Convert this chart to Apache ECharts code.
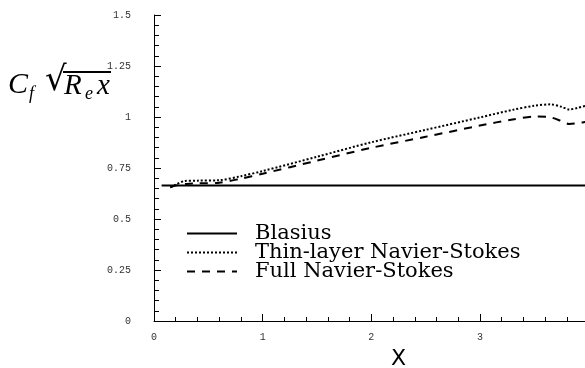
<!DOCTYPE html>
<html>
<head>
<meta charset="utf-8">
<script src="https://cdn.jsdelivr.net/npm/echarts@6/dist/echarts.min.js"></script>
<style>
  html, body { margin: 0; padding: 0; background: #fff; }
  #chart { width: 585px; height: 368px; }
</style>
</head>
<body>
<div id="chart"></div>
<script>
// skin friction along the plate
const blasiusX = [0.07, 4.0];
const blasiusY = [0.664, 0.664];

const thinX = [0.15, 0.2, 0.28, 0.4, 0.6, 0.8, 1.0, 1.5, 2.0, 2.5, 3.0, 3.3, 3.5, 3.65, 3.75, 3.82, 3.9, 4.0];
const thinY = [0.655, 0.668, 0.686, 0.688, 0.69, 0.71, 0.735, 0.805, 0.876, 0.937, 0.998, 1.035, 1.055, 1.062, 1.05, 1.037, 1.045, 1.058];

const fullX = [0.15, 0.2, 0.3, 0.4, 0.6, 0.8, 1.0, 1.5, 2.0, 2.5, 3.0, 3.3, 3.52, 3.65, 3.75, 3.82, 3.9, 4.0];
const fullY = [0.655, 0.664, 0.672, 0.675, 0.678, 0.698, 0.722, 0.786, 0.849, 0.903, 0.958, 0.988, 1.002, 0.998, 0.98, 0.966, 0.97, 0.978];

const xTicks = { min: 0, max: 4.5, interval: 1 };
const yTicks = { min: 0, max: 1.5, interval: 0.25 };

const pairs = (xs, ys) => xs.map((x, i) => [x, ys[i]]);

const chart = echarts.init(document.getElementById('chart'), null, { renderer: 'canvas' });

const tickFont = {
    color: '#333',
    fontFamily: 'Liberation Mono',
    fontSize: 10
};

chart.setOption({
    animation: false,
    grid: {
        left: 154,
        width: 489,
        top: 15,
        bottom: 47,
        outerBoundsMode: 'none'
    },
    legend: {
        orient: 'vertical',
        left: 181,
        top: 218,
        itemWidth: 50,
        itemHeight: 14,
        itemGap: -2,
        selectedMode: false,
        itemStyle: { opacity: 0 },
        textStyle: {
            color: '#000',
            fontFamily: 'DejaVu Serif',
            fontSize: 21,
            lineHeight: 18,
            padding: [0, 0, 0, 13]
        },
        data: ['Blasius', 'Thin-layer Navier-Stokes', 'Full Navier-Stokes']
    },
    xAxis: {
        type: 'value',
        min: xTicks.min,
        max: xTicks.max,
        interval: xTicks.interval,
        offset: 7,
        name: 'X',
        nameLocation: 'middle',
        nameGap: 20,
        nameTextStyle: {
            color: '#000',
            fontFamily: 'DejaVu Sans',
            fontSize: 22
        },
        splitLine: { show: false },
        axisLine: { lineStyle: { color: '#000', width: 1 } },
        axisTick: { inside: true, length: 7, lineStyle: { color: '#000' } },
        minorTick: { show: true, splitNumber: 5, length: 4, lineStyle: { color: '#000' } },
        axisLabel: Object.assign({ margin: 4, showMaxLabel: false }, tickFont)
    },
    yAxis: {
        type: 'value',
        min: yTicks.min,
        max: yTicks.max,
        interval: yTicks.interval,
        offset: 16,
        splitLine: { show: false },
        axisLine: { show: true, lineStyle: { color: '#000', width: 1 } },
        axisTick: { show: true, inside: true, length: 7, lineStyle: { color: '#000' } },
        minorTick: { show: true, splitNumber: 5, length: 5, lineStyle: { color: '#000' } },
        axisLabel: Object.assign({ margin: 7 }, tickFont)
    },
    graphic: [
        {
            type: 'group',
            left: 8,
            top: 64,
            children: [
                { type: 'text', x: 0, y: 3, style: { text: 'C', font: 'italic 30px "Liberation Serif"', fill: '#000' } },
                { type: 'text', x: 21, y: 18, style: { text: 'f', font: 'italic 18px "Liberation Serif"', fill: '#000' } },
                { type: 'text', x: 37, y: -3, style: { text: '\u221A', font: '34px "DejaVu Serif"', fill: '#000' } },
                { type: 'line', shape: { x1: 55, y1: 5, x2: 103, y2: 5 }, style: { stroke: '#000', lineWidth: 2 } },
                { type: 'text', x: 56, y: 5, style: { text: 'R', font: 'italic 29px "Liberation Serif"', fill: '#000' } },
                { type: 'text', x: 77, y: 18, style: { text: 'e', font: 'italic 18px "Liberation Serif"', fill: '#000' } },
                { type: 'text', x: 89, y: 5, style: { text: 'x', font: 'italic 29px "Liberation Serif"', fill: '#000' } }
            ]
        }
    ],
    series: [
        {
            name: 'Blasius',
            type: 'line',
            symbol: 'none',
            data: pairs(blasiusX, blasiusY),
            lineStyle: { color: '#000', width: 2 }
        },
        {
            name: 'Thin-layer Navier-Stokes',
            type: 'line',
            symbol: 'none',
            smooth: 0.3,
            data: pairs(thinX, thinY),
            lineStyle: { color: '#000', width: 2, type: [2, 2] }
        },
        {
            name: 'Full Navier-Stokes',
            type: 'line',
            symbol: 'none',
            smooth: 0.3,
            data: pairs(fullX, fullY),
            lineStyle: { color: '#000', width: 2, type: [8, 7] }
        }
    ]
});
</script>
</body>
</html>
